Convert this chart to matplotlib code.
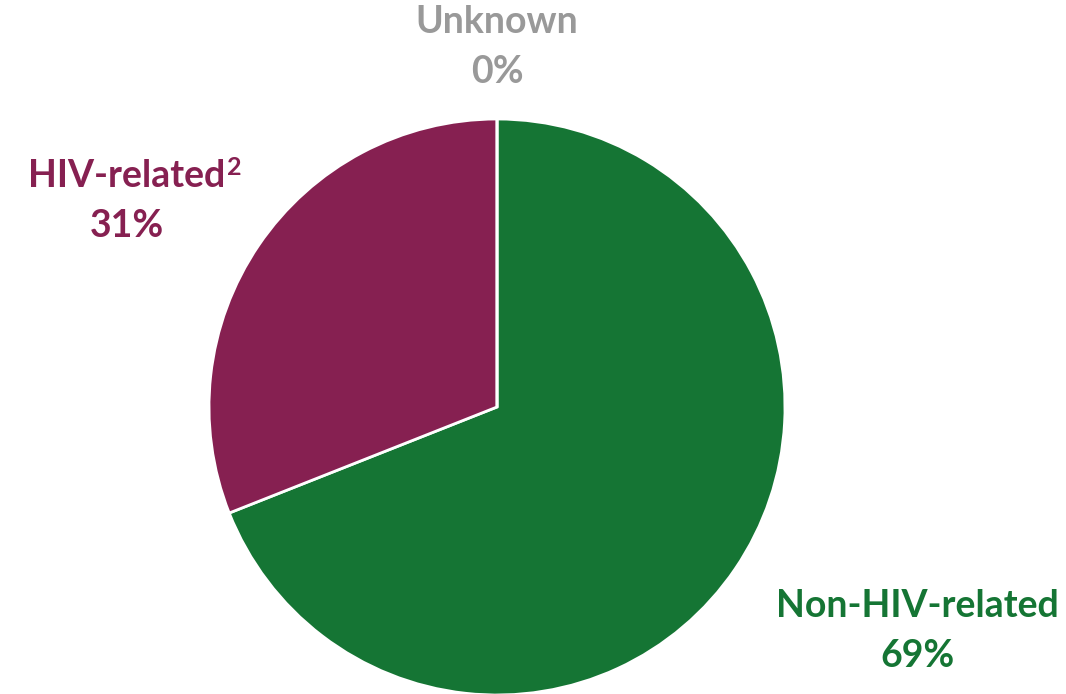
import matplotlib
matplotlib.use('Agg')
import matplotlib.pyplot as plt

# data
categories = ['Non-HIV-related', 'HIV-related', 'Unknown']
footnotes = ['', '2', '']
values = [69, 31, 0]
colors = ['#157534', '#862051', '#999999']

plt.rcParams['font.family'] = ['Lato', 'DejaVu Sans']

fig = plt.figure(figsize=(10.66, 6.94), dpi=100)
ax = fig.add_axes([0, 0, 1, 1])

# pie centre / radius in pixel units
ax.pie(values, colors=colors, startangle=90, counterclock=False,
       center=(497, 287), radius=288,
       wedgeprops=dict(edgecolor='white', linewidth=2))
# pie resets the limits, so set them afterwards
ax.set_xlim(0, 1066)
ax.set_ylim(0, 694)
ax.axis('off')

# labels (name + percentage)
label_pos = [(917, 63), (127, 493), (497, 647)]
for name, fn, v, c, (x, y) in zip(categories, footnotes, values, colors, label_pos):
    t = ax.text(x, y, f'{name}\n{v}%', ha='center', va='center', color=c,
                fontsize=27, fontweight='bold', linespacing=1.6)
    if fn:
        ax.annotate(fn, xy=(1, 1), xycoords=t, xytext=(1, 2),
                    textcoords='offset points', ha='left', va='top',
                    color=c, fontsize=18, fontweight='bold')

fig.savefig('out.png', dpi=100)
